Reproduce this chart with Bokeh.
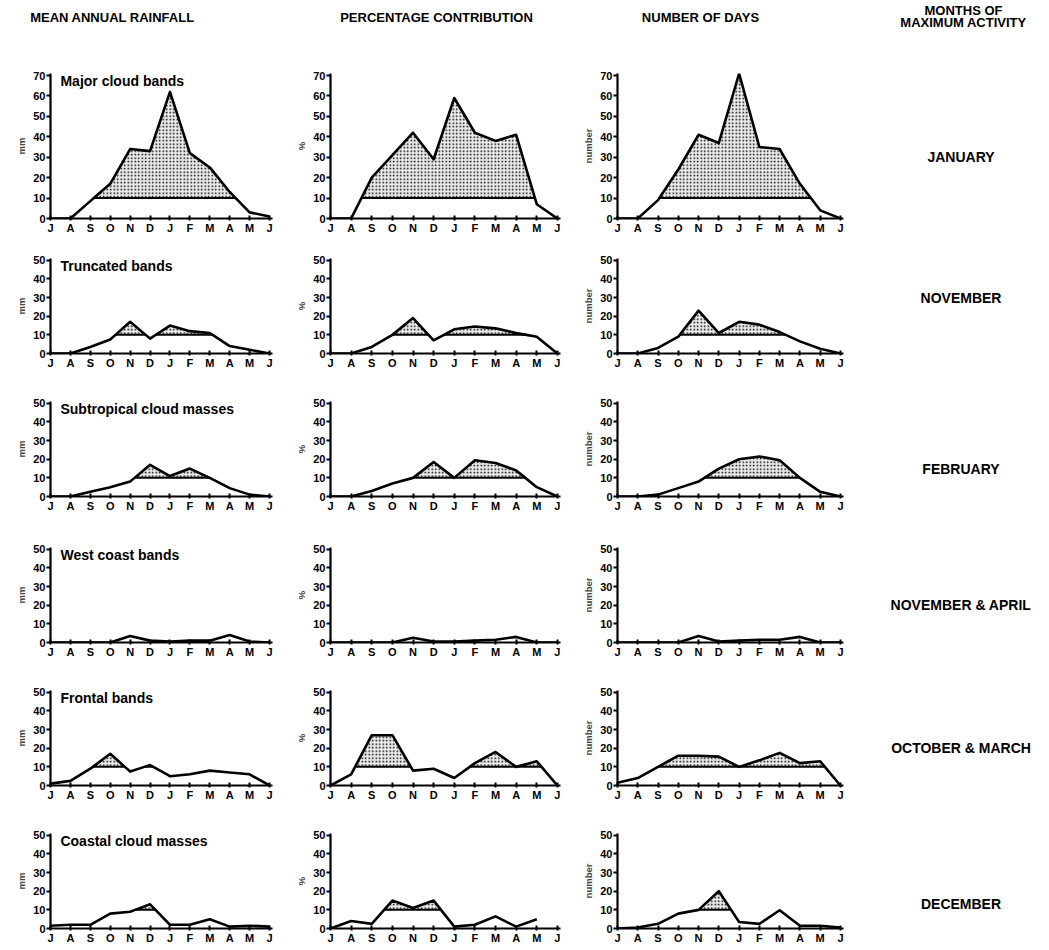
import numpy as np
from bokeh.plotting import figure
from bokeh.layouts import row, column
from bokeh.models import Range1d, FixedTicker
from bokeh.core.properties import value
from bokeh.embed import file_html
from bokeh.resources import INLINE

FONT = "Liberation Sans"

months = ["J", "A", "S", "O", "N", "D", "J", "F", "M", "A", "M", "J"]
column_titles = ["MEAN ANNUAL RAINFALL", "PERCENTAGE CONTRIBUTION", "NUMBER OF DAYS"]
units = ["mm", "%", "number"]
band_names = ["Major cloud bands", "Truncated bands", "Subtropical cloud masses",
              "West coast bands", "Frontal bands", "Coastal cloud masses"]
max_activity = ["JANUARY", "NOVEMBER", "FEBRUARY", "NOVEMBER & APRIL",
                "OCTOBER & MARCH", "DECEMBER"]
y_max = [70, 50, 50, 50, 50, 50]
threshold = 10

# Mean annual rainfall (mm), July..June
rain_major = [0, 0, 8.5, 17, 34, 33, 62, 32, 25, 13, 3, 1]
rain_truncated = [0, 0, 3.5, 7.5, 17, 8, 15, 12, 11, 4, 2, 0]
rain_subtropical = [0, 0, 2.5, 5, 8, 17, 11, 15, 10, 4.5, 1, 0]
rain_westcoast = [0, 0, 0, 0, 3.5, 1, 0.5, 1, 1, 4, 0.5, 0]
rain_frontal = [1, 2.5, 9, 17, 7.5, 11, 5, 6, 8, 7, 6, 0]
rain_coastal = [1.5, 2, 2, 8, 9, 13, 2, 2, 5, 1, 1.5, 1]

# Percentage contribution (%)
pct_major = [0, 0, 20, 31, 42, 29, 59, 42, 38, 41, 7, 0]
pct_truncated = [0, 0, 3.5, 10, 19, 7, 13, 14.5, 13.5, 11, 9, 0]
pct_subtropical = [0, 0, 3, 7, 10, 18.5, 10, 19.5, 18, 14, 5, 0]
pct_westcoast = [0, 0, 0, 0, 2.5, 0.5, 0.5, 1, 1.5, 3, 0, 0]
pct_frontal = [0, 6, 27, 27, 8, 9, 4, 12, 18, 10, 13, 0]
pct_coastal = [0, 4, 2.5, 15, 11, 15, 1, 2, 6.5, 1, 5, float("nan")]

# Number of days
days_major = [0, 0, 9, 24, 41, 37, 71, 35, 34, 17, 4, 0]
days_truncated = [0, 0, 3, 9, 23, 11, 17, 15.5, 11.5, 6.5, 2.5, 0]
days_subtropical = [0, 0, 1, 4.5, 8, 15, 20, 21.5, 19.5, 10, 2.5, 0]
days_westcoast = [0, 0, 0, 0, 3.5, 0.5, 1, 1.5, 1.5, 3, 0, 0]
days_frontal = [1.5, 4, 10, 16, 16, 15.5, 10, 13.5, 17.5, 12, 13, 0]
days_coastal = [0, 0.5, 2.5, 8, 10, 20, 3.5, 2.5, 9.8, 1.5, 1.5, 0.5]

columns_data = [
    [rain_major, rain_truncated, rain_subtropical, rain_westcoast, rain_frontal, rain_coastal],
    [pct_major, pct_truncated, pct_subtropical, pct_westcoast, pct_frontal, pct_coastal],
    [days_major, days_truncated, days_subtropical, days_westcoast, days_frontal, days_coastal],
]

# layout: (width, border_left, border_right) per column
col_specs = [(290, 50, 18), (290, 40, 20), (290, 35, 27)]
# (height, border_top, border_bottom) per row
row_specs = [(182, 15, 22), (143, 18, 30), (146, 18, 33), (143, 18, 30), (143, 18, 30), (135, 18, 22)]
# vertical level (in each row's y units) at which the right-hand label sits
label_level = [30, 30, 15, 20, 20, 13]
HEADER_H = 58
LABEL_W = 1049 - sum(c[0] for c in col_specs)
TOTAL_W = 1049


def densify(vals):
    xs, ys = [], []
    n = len(vals)
    for i in range(n):
        y = vals[i]
        xs.append(float(i)); ys.append(y)
        if i < n - 1:
            y2 = vals[i + 1]
            if not (np.isnan(y) or np.isnan(y2)) and (y - threshold) * (y2 - threshold) < 0:
                t = (threshold - y) / (y2 - y)
                xs.append(i + t); ys.append(float(threshold))
    return np.array(xs), np.array(ys, dtype=float)


def style_axes(p):
    for ax in (p.xaxis[0], p.yaxis[0]):
        ax.axis_line_width = 2.2
        ax.major_tick_line_width = 2
        ax.minor_tick_line_color = None
        ax.major_label_text_font = FONT
        ax.major_label_text_font_style = "bold"
        ax.major_label_text_font_size = "11px"
        ax.major_label_text_color = "black"
        ax.axis_line_color = "black"
        ax.major_tick_line_color = "black"
    p.xaxis.major_tick_in = 3
    p.xaxis.major_tick_out = 2
    p.xaxis.major_label_standoff = 1
    p.yaxis.major_tick_in = 0
    p.yaxis.major_tick_out = 4
    p.yaxis.major_label_standoff = 1
    p.yaxis.axis_label_standoff = 3
    p.yaxis.axis_label_text_font = FONT
    p.yaxis.axis_label_text_font_style = "bold"
    p.yaxis.axis_label_text_font_size = "9.5px"


def make_panel(ci, ri):
    vals = [float(v) for v in columns_data[ci][ri]]
    w, bl, br = col_specs[ci]
    h, bt, bb = row_specs[ri]
    ymax = y_max[ri]
    p = figure(width=w, height=h, output_backend="svg", toolbar_location=None,
               x_range=Range1d(0, 11.15), y_range=Range1d(0, ymax + 1),
               min_border_left=bl, min_border_right=br,
               min_border_top=bt, min_border_bottom=bb)
    p.outline_line_color = None
    p.grid.visible = False
    p.background_fill_color = "white"
    p.border_fill_color = "white"
    p.xaxis.ticker = FixedTicker(ticks=list(range(12)))
    p.xaxis.major_label_overrides = {i: m for i, m in enumerate(months)}
    p.yaxis.ticker = FixedTicker(ticks=list(range(0, ymax + 1, 10)))
    p.yaxis.axis_label = units[ci]
    style_axes(p)

    xs, ys = densify(vals)
    upper = np.where(np.isnan(ys), threshold, np.maximum(ys, threshold))
    p.varea(x=xs, y1=np.full_like(xs, threshold), y2=upper,
            fill_color="#e2e2e2", fill_alpha=0.7,
            hatch_pattern="dot", hatch_color="black", hatch_scale=3.5, hatch_weight=1.5)
    base = np.where((~np.isnan(ys)) & (ys >= threshold), threshold, np.nan)
    p.line(xs, base, line_color="black", line_width=2)
    p.line(xs, ys, line_color="black", line_width=2.6, line_join="round")

    if ci == 0:
        ty = ymax - 2.5 if ri == 0 else ymax - 3
        p.text(x=[0.5], y=[ty], text=[band_names[ri]], text_font=value(FONT),
               text_font_size="14px", text_font_style="bold", text_baseline="middle",
               text_align="left", text_color="black")
    return p


rows = []
for ri in range(6):
    rows.append(row(*[make_panel(ci, ri) for ci in range(3)]))
grid = column(*rows)

# right-hand labels (page pixel coordinates derived from each row's geometry)
top0 = HEADER_H
label_y = []
acc = top0
for ri, (h, bt, bb) in enumerate(row_specs):
    frame_h = h - bt - bb
    px_per_unit = frame_h / (y_max[ri] + 1)
    zero_y = acc + bt + frame_h
    label_y.append(zero_y - label_level[ri] * px_per_unit)
    acc += h
grid_bottom = acc
lab = figure(width=LABEL_W, height=grid_bottom - top0, output_backend="svg", toolbar_location=None,
             x_range=Range1d(0, LABEL_W), y_range=Range1d(grid_bottom, top0),
             min_border=0)
lab.axis.visible = False
lab.grid.visible = False
lab.outline_line_color = None
lab.text(x=[LABEL_W / 2 + 1] * 6, y=label_y, text=max_activity, text_font=value(FONT),
         text_font_size="14px", text_font_style="bold", text_align="center",
         text_baseline="middle", text_color="black")

# header
hdr = figure(width=TOTAL_W, height=HEADER_H, output_backend="svg", toolbar_location=None,
             x_range=Range1d(0, TOTAL_W), y_range=Range1d(HEADER_H, 0),
             min_border=0)
hdr.axis.visible = False
hdr.grid.visible = False
hdr.outline_line_color = None
hdr_x = [112, 436, 700]
hdr.text(x=hdr_x, y=[17, 17, 17], text=column_titles, text_font=value(FONT),
         text_font_size="13px", text_font_style="bold", text_align="center",
         text_baseline="middle", text_color="black")
hdr.text(x=[963, 963], y=[10, 22], text=["MONTHS OF", "MAXIMUM ACTIVITY"], text_font=value(FONT),
         text_font_size="13px", text_font_style="bold", text_align="center",
         text_baseline="middle", text_color="black")

layout = column(hdr, row(grid, lab))

with open("out.html", "w") as f:
    f.write(file_html(layout, INLINE))
